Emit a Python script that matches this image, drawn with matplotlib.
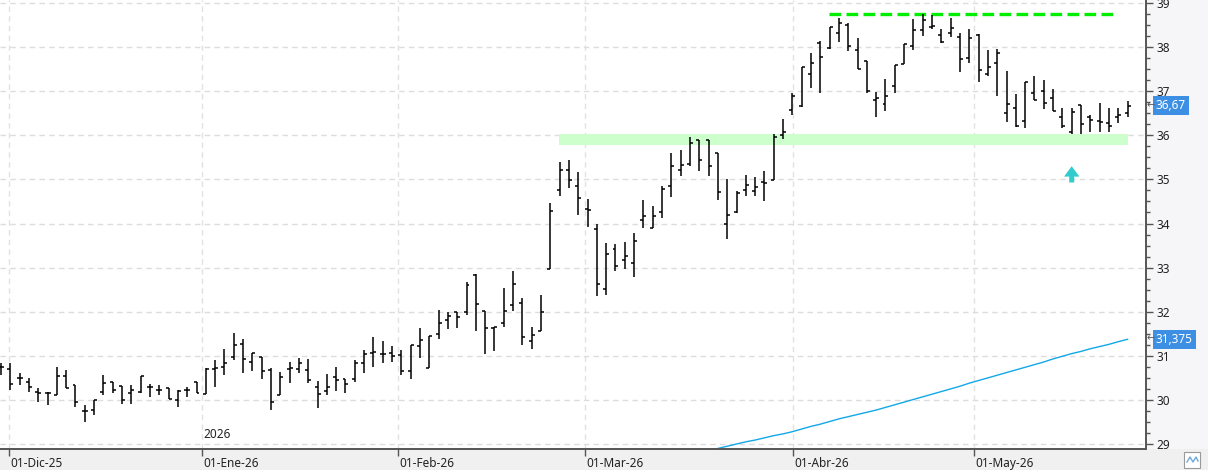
import numpy as np
import matplotlib
matplotlib.use("Agg")
from matplotlib import pyplot as plt
from matplotlib import transforms as mtransforms
from matplotlib.patches import Rectangle

plt.rcParams['font.family'] = ['Noto Sans', 'DejaVu Sans']

# daily bars, 28-Nov-25 .. mid-May-26 (trading days only)
opens = [30.75, 30.70, 30.49, 30.41, 30.19, 30.15, 30.11, 30.54, 30.34, 29.75,
         29.77, 30.19, 30.40, 30.31, 30.15, 30.19, 30.30, 30.23, 30.28, 30.00,
         30.22, 30.41, 30.13, 30.69, 30.75, 30.98, 31.27, 30.87, 30.97, 30.68,
         30.11, 30.69, 30.69, 30.68, 30.30, 30.20, 30.51, 30.47, 30.47, 30.83,
         31.06, 31.03, 31.07, 31.02, 30.66, 31.22, 30.72, 31.49, 31.81, 32.00,
         32.00, 32.83, 32.02, 31.62, 31.74, 32.15, 32.19, 31.34, 31.57, 32.96,
         34.77, 35.21, 34.85, 34.34, 33.88, 32.51, 33.42, 33.17, 33.10, 34.09,
         33.89, 34.27, 34.86, 35.21, 35.36, 35.89, 35.89, 35.61, 34.00, 34.25,
         34.76, 34.74, 34.95, 34.99, 36.01, 36.57, 36.66, 37.38, 38.09, 37.97,
         38.31, 38.50, 37.93, 37.68, 36.80, 36.70, 37.12, 37.61, 38.02, 38.39,
         38.46, 38.27, 38.31, 38.22, 37.75, 38.27, 37.40, 37.65, 36.50, 36.61,
         36.33, 36.97, 37.00, 36.84, 36.42, 36.08, 36.69, 36.42, 36.33, 36.27,
         36.42, 36.50]
highs = [30.83, 30.83, 30.60, 30.49, 30.28, 30.19, 30.75, 30.68, 30.34, 29.88,
         30.00, 30.56, 30.41, 30.31, 30.34, 30.54, 30.36, 30.34, 30.28, 30.22,
         30.30, 30.41, 30.72, 30.90, 31.15, 31.51, 31.37, 31.06, 30.97, 30.72,
         30.64, 30.87, 30.94, 30.92, 30.43, 30.59, 30.74, 30.47, 30.90, 31.13,
         31.43, 31.34, 31.22, 31.13, 31.24, 31.62, 31.45, 32.05, 31.99, 32.00,
         32.68, 32.85, 32.02, 31.65, 32.53, 32.92, 32.30, 31.66, 32.38, 34.47,
         35.39, 35.44, 35.16, 34.55, 33.98, 33.55, 33.53, 33.57, 33.78, 34.53,
         34.40, 34.85, 35.59, 35.67, 35.97, 35.89, 35.89, 35.61, 35.02, 34.74,
         35.10, 35.05, 35.19, 36.02, 36.37, 36.97, 37.54, 37.87, 38.14, 38.45,
         38.67, 38.55, 38.20, 37.68, 36.99, 37.28, 37.60, 38.06, 38.63, 38.74,
         38.73, 38.40, 38.65, 38.31, 38.40, 38.30, 37.93, 37.95, 37.46, 36.94,
         37.22, 37.34, 37.25, 37.04, 36.63, 36.61, 36.69, 36.46, 36.73, 36.61,
         36.61, 36.78]
lows = [30.56, 30.22, 30.34, 30.19, 29.96, 29.88, 30.11, 30.28, 29.83, 29.50,
        29.66, 30.11, 30.15, 29.91, 29.90, 30.16, 30.07, 30.11, 30.03, 29.85,
        30.07, 30.15, 30.13, 30.30, 30.57, 30.90, 30.60, 30.66, 30.47, 29.77,
        30.11, 30.38, 30.62, 30.39, 29.81, 30.11, 30.20, 30.16, 30.41, 30.60,
        30.74, 30.84, 30.87, 30.56, 30.47, 30.94, 30.72, 31.38, 31.61, 31.64,
        31.92, 31.57, 31.04, 31.12, 31.66, 32.02, 31.24, 31.15, 31.57, 32.96,
        34.63, 34.81, 34.19, 33.93, 32.36, 32.39, 32.93, 32.96, 32.79, 33.89,
        33.89, 34.12, 34.59, 35.08, 35.31, 35.20, 35.08, 34.53, 33.66, 34.23,
        34.63, 34.63, 34.52, 34.99, 35.91, 36.45, 36.65, 37.07, 36.97, 37.95,
        38.12, 37.92, 37.50, 36.95, 36.42, 36.56, 36.95, 37.61, 37.93, 38.25,
        38.40, 38.09, 38.22, 37.44, 37.65, 37.22, 37.35, 36.88, 36.31, 36.18,
        36.16, 36.80, 36.60, 36.56, 36.17, 36.04, 36.04, 36.08, 36.08, 36.08,
        36.29, 36.42]
closes = [30.74, 30.35, 30.49, 30.30, 30.15, 30.15, 30.54, 30.28, 29.96, 29.75,
          30.00, 30.38, 30.22, 30.00, 30.22, 30.54, 30.30, 30.23, 30.03, 30.21,
          30.22, 30.15, 30.69, 30.72, 30.84, 31.25, 30.93, 31.06, 30.66, 29.96,
          30.53, 30.72, 30.83, 30.45, 30.13, 30.30, 30.45, 30.35, 30.83, 31.03,
          31.08, 31.03, 30.99, 30.66, 31.24, 31.36, 31.45, 31.75, 31.90, 31.87,
          32.60, 32.17, 31.62, 31.65, 32.02, 32.63, 31.42, 31.47, 32.00, 34.28,
          35.21, 34.99, 34.57, 34.31, 32.62, 33.30, 33.04, 33.26, 33.60, 34.17,
          34.17, 34.78, 35.30, 35.33, 35.82, 35.44, 35.31, 34.72, 34.19, 34.69,
          34.87, 34.82, 34.91, 35.97, 36.08, 36.88, 37.54, 37.63, 37.78, 38.45,
          38.54, 38.02, 37.50, 37.00, 36.84, 36.88, 37.60, 38.06, 38.39, 38.61,
          38.48, 38.11, 38.43, 37.72, 38.20, 37.48, 37.56, 37.87, 36.72, 36.20,
          37.22, 36.80, 36.73, 36.56, 36.21, 36.52, 36.26, 36.35, 36.31, 36.20,
          36.46, 36.67]

# moving average (only the visible part, from bar 75 on)
ma_start = 75
ma_values = [28.80, 28.85, 28.90, 28.95, 29.00, 29.05, 29.09, 29.14, 29.19, 29.23,
             29.28, 29.34, 29.40, 29.45, 29.51, 29.57, 29.62, 29.67, 29.72, 29.77,
             29.83, 29.89, 29.95, 30.01, 30.07, 30.13, 30.19, 30.25, 30.31, 30.38,
             30.44, 30.50, 30.56, 30.62, 30.68, 30.74, 30.80, 30.86, 30.93, 30.99,
             31.05, 31.10, 31.16, 31.21, 31.26, 31.32, 31.375]

# month marks (bar-index positions) and labels
month_pos = [0.89, 21.58, 42.61, 62.72, 85.09, 104.48]
month_labels = ['01-Dic-25', '01-Ene-26', '01-Feb-26', '01-Mar-26', '01-Abr-26', '01-May-26']

support_low, support_high = 35.78, 36.03
resistance = 38.74
last_price = 36.67
ma_last = 31.375

W, H = 1208, 470
fig = plt.figure(figsize=(W / 100, H / 100), dpi=100)
fig.patch.set_facecolor('#F6F6F8')
fig.patches.append(Rectangle((0, 0), 1, 21 / H, transform=fig.transFigure,
                             facecolor='#F0F0F0', edgecolor='none', zorder=-5))
ax = fig.add_axes([0, 21 / H, 1146 / W, 449 / H])
ax.set_facecolor('white')

idx = np.arange(len(opens))
tick = 0.32

# support band and resistance line
ax.fill_between([59.9, 121.05], support_low, support_high, color='#CCFFCC', lw=0, zorder=1)
ax.plot([88.9, 119.9], [resistance, resistance], color='#00EE00', lw=2.4,
        dashes=(3.5, 1.6), zorder=2)

# OHLC bars
ax.vlines(idx, lows, highs, color='black', lw=1.1, zorder=3)
ax.hlines(opens, idx - tick, idx, color='black', lw=1.1, zorder=3)
ax.hlines(closes, idx, idx + tick, color='black', lw=1.1, zorder=3)

# moving average
ax.plot(np.arange(ma_start, ma_start + len(ma_values)), ma_values,
        color='#12A8E8', lw=1.0, zorder=2)

# up arrow
ax.annotate('', xy=(115, 35.30), xytext=(115, 34.93),
            arrowprops=dict(width=3.6, headwidth=11, headlength=7.5,
                            color='#33CCCC', lw=0), zorder=4)

ax.set_xlim(-0.107, 122.98)
ax.set_ylim(28.887, 39.068)

# grid
for m in month_pos:
    ax.axvline(m, color='#E2E2E2', lw=1, dashes=(4, 3), zorder=0)
for v in range(29, 40):
    ax.axhline(v, color='#DDDDDD', lw=1, dashes=(4, 3), zorder=0)

# axes look
for s in ['top', 'left']:
    ax.spines[s].set_visible(False)
for s in ['bottom', 'right']:
    ax.spines[s].set_color('#555555')
    ax.spines[s].set_linewidth(1.4)

ax.yaxis.tick_right()
ax.set_yticks(range(29, 40))
ax.set_yticks(np.arange(29, 39.01, 0.25), minor=True)
ax.tick_params(axis='y', which='major', length=5, width=1, color='#555555',
               pad=2.5, labelsize=8.5, labelcolor='#222222')
ax.tick_params(axis='y', which='minor', length=3, width=1, color='#555555')

ax.set_xticks(month_pos)
ax.set_xticklabels(month_labels)
ax.tick_params(axis='x', length=5, width=1, color='#555555', pad=0.5,
               labelsize=8.5, labelcolor='#222222')
shift = mtransforms.ScaledTranslation(1.5 / 100, 0, fig.dpi_scale_trans)
for lbl in ax.get_xticklabels():
    lbl.set_horizontalalignment('left')
    lbl.set_transform(lbl.get_transform() + shift)

ax.text(21.7, 29.06, '2026', fontsize=8.5, color='#222222', ha='left', va='bottom')

# price labels on the right axis
trans = mtransforms.blended_transform_factory(ax.transAxes, ax.transData)
for val, txt in [(last_price, '36,67'), (ma_last, '31,375')]:
    ax.text(1.0085, val, txt, transform=trans, fontsize=8.5, color='white',
            ha='left', va='center', clip_on=False,
            bbox=dict(boxstyle='square,pad=0.25', facecolor='#3D8FE3', edgecolor='none'))
    ax.text(1.0005, val, '\u2190', transform=trans, fontsize=7, color='#555555',
            ha='left', va='center', clip_on=False)

# small button bottom right
fig.patches.append(Rectangle((1184 / W, 2 / H), 16 / W, 16 / H, transform=fig.transFigure,
                             facecolor='white', edgecolor='#999999', lw=0.8))
fig.lines.append(plt.Line2D(np.array([1187, 1190, 1193, 1196, 1198]) / W,
                            np.array([8, 13, 8, 13, 9]) / H,
                            transform=fig.transFigure, color='#6AA8E0', lw=1))

fig.savefig('out.png', dpi=100, facecolor=fig.get_facecolor())
